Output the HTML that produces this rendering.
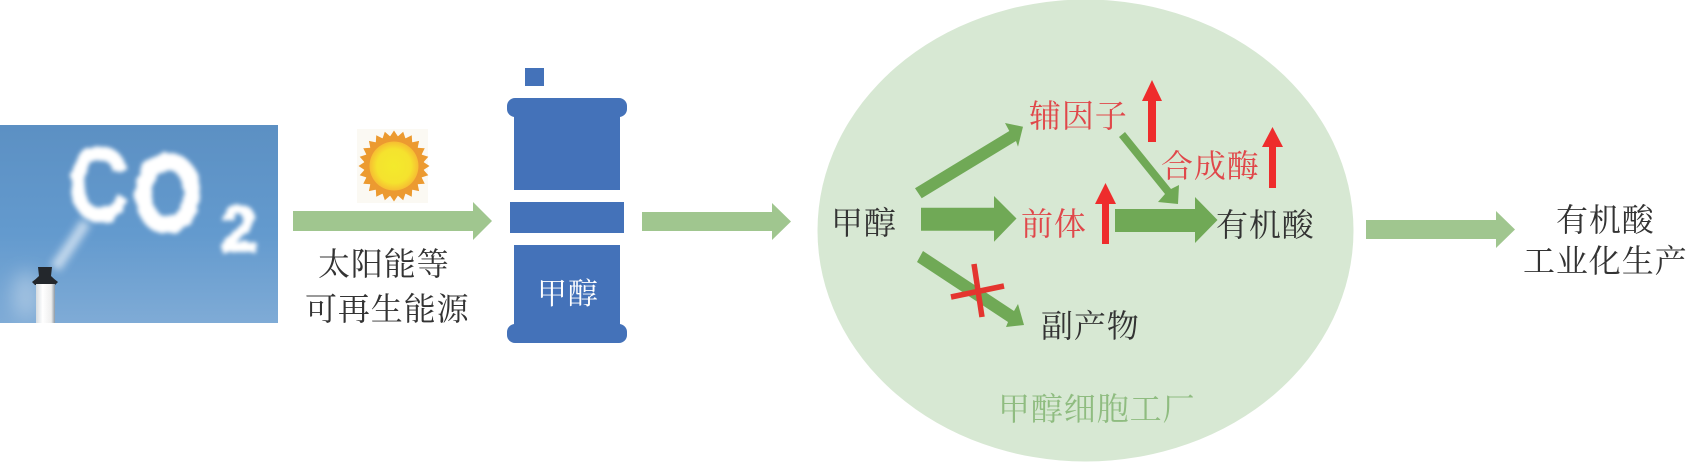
<!DOCTYPE html>
<html><head><meta charset="utf-8"><style>
html,body{margin:0;padding:0;background:#fff;width:1689px;height:472px;overflow:hidden}
svg{display:block}
text{font-family:"Liberation Serif","Noto Serif CJK SC",serif;font-size:32px;letter-spacing:.9px;fill:#333}
.r{fill:#e0474a}
</style></head><body>
<svg width="1689" height="472" viewBox="0 0 1689 472" xmlns="http://www.w3.org/2000/svg">
<defs>
<linearGradient id="sky" x1="0" y1="0" x2="0" y2="1"><stop offset="0" stop-color="#5c90c3"/><stop offset=".55" stop-color="#639ace"/><stop offset="1" stop-color="#7fabd6"/></linearGradient>
<linearGradient id="chim" x1="0" y1="0" x2="1" y2="0"><stop offset="0" stop-color="#d5dbe0"/><stop offset=".35" stop-color="#fff"/><stop offset=".8" stop-color="#eee"/><stop offset="1" stop-color="#8d99a3"/></linearGradient>
<radialGradient id="sun"><stop offset="0" stop-color="#f3ea2c"/><stop offset=".7" stop-color="#f5e22e"/><stop offset="1" stop-color="#f6bd32"/></radialGradient>
<filter id="cl" x="-30%" y="-30%" width="160%" height="160%"><feTurbulence type="fractalNoise" baseFrequency=".1" numOctaves="2" seed="3"/><feDisplacementMap in="SourceGraphic" scale="6"/><feGaussianBlur stdDeviation="2.2"/></filter>
<filter id="sm" x="-60%" y="-60%" width="220%" height="220%"><feGaussianBlur stdDeviation="4"/></filter>
<filter id="gl" x="-100%" y="-100%" width="300%" height="300%"><feGaussianBlur stdDeviation="9"/></filter>
<clipPath id="ph"><rect x="0" y="125" width="278" height="198"/></clipPath>
<path id="ray" d="M394 130.500L398.300 137H389.700ZM394 201.500L389.700 195H398.300Z" fill="#ec9a30"/>
</defs>

<!-- photo -->
<g clip-path="url(#ph)">
<rect x="0" y="125" width="278" height="198" fill="url(#sky)"/>
<ellipse cx="26" cy="295" rx="14" ry="24" fill="#d5e3f0" opacity=".45" filter="url(#gl)"/>
<path d="M55 268Q68 250 86 222" stroke="#eaf2f9" stroke-width="11" fill="none" opacity=".7" filter="url(#sm)"/>
<g filter="url(#cl)" stroke="#fff" stroke-width="7">
<text transform="translate(70 218) scale(.78 .98)" style="font-family:'Liberation Sans',sans-serif;font-size:100px;fill:#fff;letter-spacing:0">C</text>
<text transform="translate(134 230) scale(.82 1)" style="font-family:'Liberation Sans',sans-serif;font-weight:bold;font-size:106px;fill:#fff;letter-spacing:0" stroke-width="5">O</text>
<text transform="translate(221 251)" style="font-family:'Liberation Sans',sans-serif;font-weight:bold;font-size:64px;fill:#fff;letter-spacing:0" stroke-width="3">2</text>
</g>
<path d="M32 282Q36 279 39 276L38 267H52L51 276Q54 279 58 282L55 285H35Z" fill="#23272c"/>
<rect x="36" y="284" width="19" height="42" fill="url(#chim)"/>
</g>

<!-- sun -->
<rect x="357" y="129" width="71" height="74" fill="#fbf9f3"/>
<use href="#ray"/>
<use href="#ray" transform="rotate(15 394 166)"/>
<use href="#ray" transform="rotate(30 394 166)"/>
<use href="#ray" transform="rotate(45 394 166)"/>
<use href="#ray" transform="rotate(60 394 166)"/>
<use href="#ray" transform="rotate(75 394 166)"/>
<use href="#ray" transform="rotate(90 394 166)"/>
<use href="#ray" transform="rotate(105 394 166)"/>
<use href="#ray" transform="rotate(120 394 166)"/>
<use href="#ray" transform="rotate(135 394 166)"/>
<use href="#ray" transform="rotate(150 394 166)"/>
<use href="#ray" transform="rotate(165 394 166)"/>
<circle cx="394" cy="166" r="30" fill="#ec9a30"/>
<circle cx="394" cy="166" r="24.500" fill="url(#sun)"/>

<!-- pale arrows -->
<g fill="#a0c68f">
<polygon points="293,211 473,211 473,202 492,221 473,240 473,231 293,231"/>
<polygon points="642,212 772,212 772,203 791,221.500 772,240 772,231 642,231"/>
<polygon points="1366,220 1496,220 1496,211 1515,229.500 1496,248 1496,239 1366,239"/>
</g>
<text x="318" y="275">太阳能等</text>
<text x="305" y="320">可再生能源</text>

<!-- bottle -->
<g fill="#4472b9">
<rect x="525" y="68" width="19" height="18"/>
<rect x="507" y="98" width="120" height="19" rx="8"/>
<rect x="514" y="110" width="106" height="80"/>
<rect x="510" y="202" width="114" height="31"/>
<rect x="514" y="245" width="106" height="85"/>
<rect x="507" y="324" width="120" height="19" rx="8"/>
</g>
<text x="537" y="304" style="fill:#fff;font-size:30px">甲醇</text>

<!-- cell -->
<ellipse cx="1085.500" cy="230.500" rx="268" ry="231" fill="#d7e8d3"/>
<g fill="#70a956">
<polygon points="915,188.300 1009.300,131 1005,123 1023,126.700 1018,146.700 1016,141 921.700,198.300"/>
<polygon points="921,207.700 994,207.700 994,196 1016.500,218.500 994,241.700 994,230.700 921,230.700"/>
<polygon points="1115,209 1195,209 1195,197 1217.500,220 1195,243 1195,232 1115,232"/>
<polygon points="923,251 1014,311 1018,304 1024,325 1006,327 1008,322 917,262"/>
<polygon points="1125,132 1171,189 1179,185 1178,204 1158,202 1165,194 1119,137"/>
</g>
<g fill="#ee2c2c">
<polygon points="1148,142 1148,101 1142,101 1152,80 1162,101 1156,101 1156,142"/>
<polygon points="1269,188 1269,147 1262,147 1272.500,127 1283,147 1276,147 1276,188"/>
<polygon points="1102,244 1102,204 1095,204 1105.500,183 1116,204 1109,204 1109,244"/>
</g>
<g stroke="#e4352f" stroke-width="5.500" fill="none">
<line x1="974" y1="264" x2="982" y2="317"/>
<line x1="951" y1="297" x2="1004" y2="286"/>
</g>
<text x="831" y="234">甲醇</text>
<text x="1029" y="127" class="r">辅因子</text>
<text x="1161" y="177" class="r">合成酶</text>
<text x="1021" y="235" class="r">前体</text>
<text x="1216" y="236">有机酸</text>
<text x="1041" y="337">副产物</text>
<text x="998" y="420" style="fill:#8fbc80">甲醇细胞工厂</text>

<text x="1556" y="231">有机酸</text>
<text x="1523" y="272">工业化生产</text>
</svg>
</body></html>
